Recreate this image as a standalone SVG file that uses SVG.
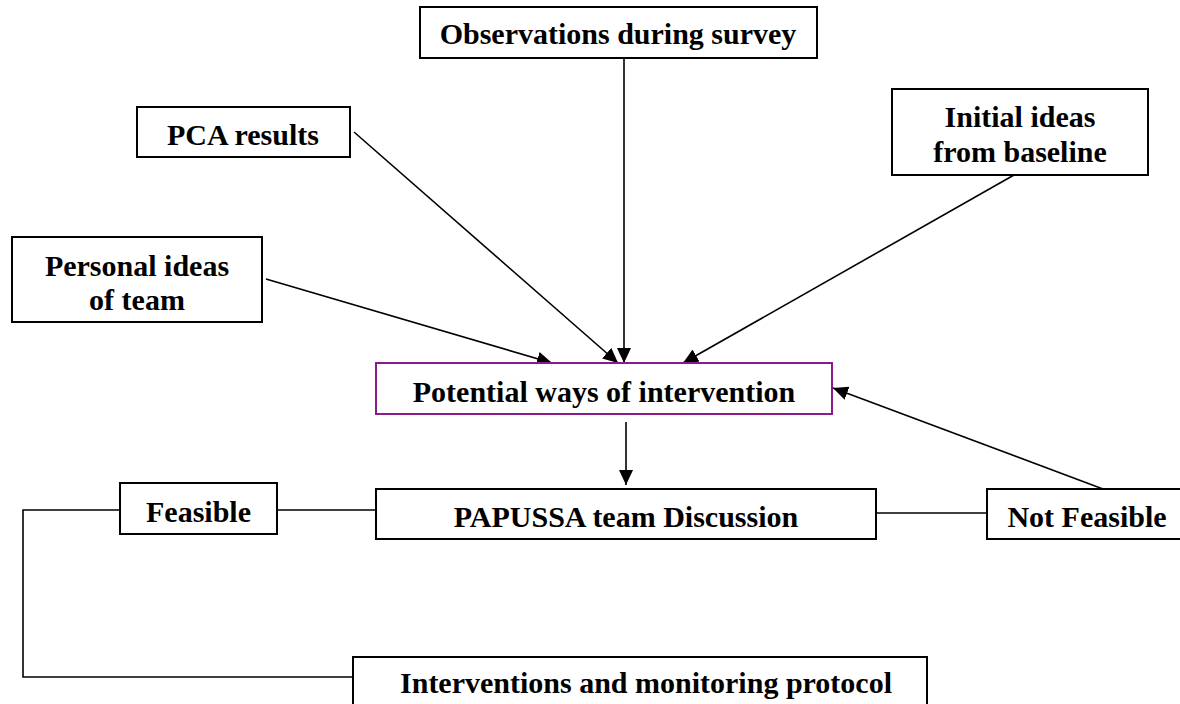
<svg xmlns="http://www.w3.org/2000/svg" width="1180" height="704" viewBox="0 0 1180 704">
<style>
.box{fill:#fff;stroke:#000;stroke-width:2}
.pbox{fill:#fff;stroke:#8B1A8B;stroke-width:2}
.t{font-family:"Liberation Serif","Times New Roman",serif;font-weight:bold;font-size:30px;fill:#000;text-anchor:middle}
.c{fill:none;stroke:#000;stroke-width:1.6}
</style>
<defs>
<marker id="ah" viewBox="0 0 15 14" refX="15" refY="7" markerWidth="15" markerHeight="14" markerUnits="userSpaceOnUse" orient="auto">
<path d="M0,0 L15,7 L0,14 Z" fill="#000"/>
</marker>
</defs>
<rect width="1180" height="704" fill="#fff"/>
<g id="connectors">
<line class="c" x1="624" y1="58" x2="624" y2="363" marker-end="url(#ah)"/>
<line class="c" x1="354" y1="132" x2="618" y2="363" marker-end="url(#ah)"/>
<line class="c" x1="266" y1="279" x2="552" y2="363" marker-end="url(#ah)"/>
<line class="c" x1="1014" y1="175" x2="683" y2="363" marker-end="url(#ah)"/>
<line class="c" x1="1103" y1="489" x2="833" y2="388" marker-end="url(#ah)"/>
<line class="c" x1="626" y1="422" x2="626" y2="485" marker-end="url(#ah)"/>
<line class="c" x1="277" y1="510" x2="376" y2="510"/>
<line class="c" x1="876" y1="513" x2="987" y2="513"/>
<polyline class="c" points="120,510 23,510 23,677 353,677"/>
</g>
<g id="observations">
<rect class="box" x="420" y="7" width="397" height="51"/>
<text class="t" x="618" y="44">Observations during survey</text>
</g>
<g id="pca">
<rect class="box" x="137" y="107" width="213" height="50"/>
<text class="t" x="243" y="145">PCA results</text>
</g>
<g id="personal">
<rect class="box" x="12" y="237" width="250" height="85"/>
<text class="t" x="137" y="276">Personal ideas</text>
<text class="t" x="137" y="310">of team</text>
</g>
<g id="initial">
<rect class="box" x="892" y="89" width="256" height="86"/>
<text class="t" x="1020" y="127">Initial ideas</text>
<text class="t" x="1020" y="162">from baseline</text>
</g>
<g id="potential">
<rect class="pbox" x="376" y="363" width="456" height="51"/>
<text class="t" x="604" y="402">Potential ways of intervention</text>
</g>
<g id="feasible">
<rect class="box" x="120" y="483" width="157" height="51"/>
<text class="t" x="198.5" y="522">Feasible</text>
</g>
<g id="papussa">
<rect class="box" x="376" y="489" width="500" height="50"/>
<text class="t" x="626" y="527">PAPUSSA team Discussion</text>
</g>
<g id="notfeasible">
<rect class="box" x="987" y="489" width="200" height="50"/>
<text class="t" x="1087" y="527">Not Feasible</text>
</g>
<g id="interventions">
<rect class="box" x="353" y="657" width="574" height="70"/>
<text class="t" x="646" y="693">Interventions and monitoring protocol</text>
</g>
</svg>
